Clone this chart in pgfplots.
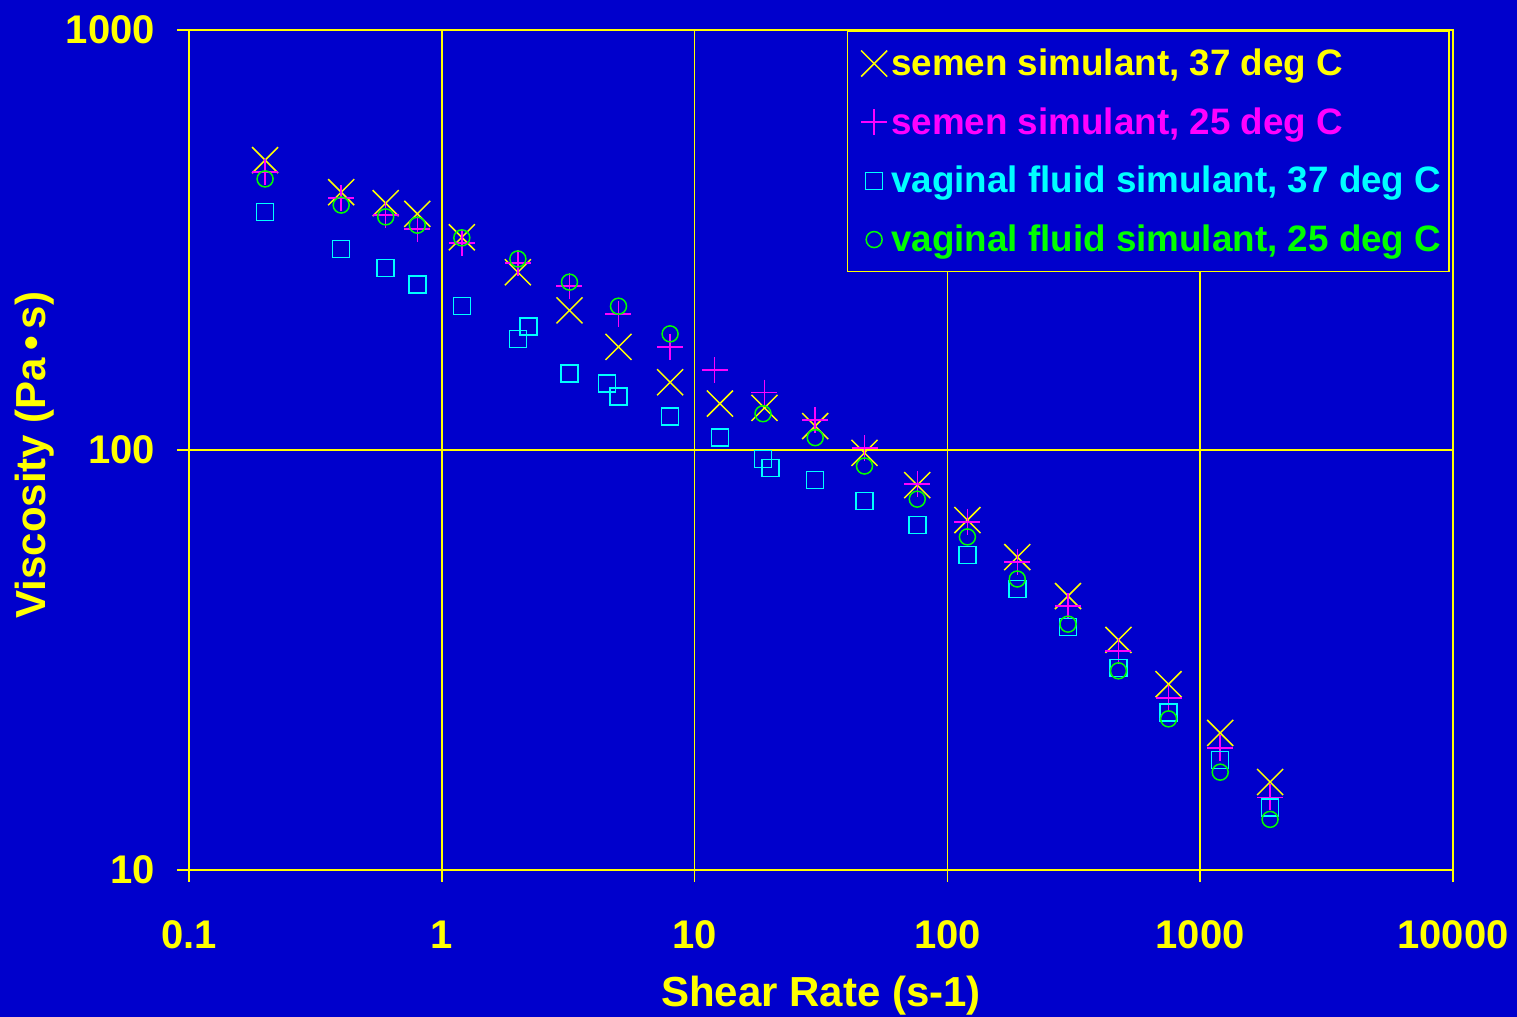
\documentclass[border=0pt]{standalone}
\usepackage{fontspec}
\setmainfont{Liberation Sans}
\usepackage{pgfplots}
\pgfplotsset{compat=1.18}
\definecolor{bgblue}{RGB}{0,0,204}
\definecolor{myyellow}{RGB}{255,255,0}
\definecolor{mymag}{RGB}{255,0,255}
\definecolor{mycyan}{RGB}{0,255,255}
\definecolor{mygreen}{RGB}{0,255,0}
\begin{document}
\begin{tikzpicture}
\fill[bgblue] (-94.5pt,-73.5pt) rectangle (664pt,435pt);
\useasboundingbox (-94.5pt,-73.5pt) rectangle (664pt,435pt);
\begin{axis}[
  at={(0pt,0pt)}, anchor=south west,
  width=632pt, height=420pt, scale only axis,
  xmode=log, ymode=log,
  xmin=0.1, xmax=10000, ymin=10, ymax=1000,
  axis line style={myyellow, line width=0.75pt},
  grid=major, major grid style={myyellow, line width=0.75pt},
  xminorticks=false, yminorticks=false,
  xtick pos=bottom, ytick pos=left,
  xtick={0.1,1,10,100,1000,10000}, xticklabels={0.1,1,10,100,1000,10000},
  ytick={10,100,1000}, yticklabels={10,100,1000},
  tick align=outside, major tick length=6pt,
  tick style={myyellow, line width=0.75pt},
  ticklabel style={font=\fontsize{20}{24}\selectfont\bfseries, text=myyellow},
  xticklabel style={yshift=-16pt},
  yticklabel style={xshift=-7.5pt},
  xlabel={Shear Rate (s-1)}, ylabel={Viscosity (Pa\,•\,s)},
  label style={font=\fontsize{21}{25}\selectfont\bfseries, text=myyellow},
  xlabel style={at={(axis description cs:0.5,0)}, anchor=center, yshift=-63pt},
  ylabel style={at={(axis description cs:-0.1218,0.494)}, anchor=center},
  legend style={at={(rel axis cs:0.9976,0.9988)}, anchor=north east,
    draw=myyellow, fill=bgblue, line width=0.75pt,
    font=\fontsize{18.4}{22}\selectfont\bfseries, row sep=10.5pt,
    inner xsep=2pt, inner ysep=6.5pt},
  legend image code/.code={\draw[#1] plot coordinates {(0pt,0pt)}; \path (-11pt,0pt) (5.5pt,0pt);},
  legend cell align=left,
]
\addplot[only marks, mark=x, mark size=9.2pt, myyellow, mark options={line width=0.75pt}] coordinates {
(0.2,490) (0.4,411) (0.6,387) (0.8,365) (1.2,321) (2,265) (3.2,215) (5,176) (8,145)
(12.6,129) (18.9,126) (30,114) (47,98.4) (76,82.5) (120,68.1) (189,55.6) (300,44.9)
(475,35.3) (750,27.7) (1200,21.2) (1890,16.2)};
\addlegendentry{\textcolor{myyellow}{semen simulant, 37 deg C}}
\addplot[only marks, mark=+, mark size=6.5pt, mymag, mark options={line width=0.75pt}] coordinates {
(0.2,459) (0.4,398) (0.6,363) (0.8,336) (1.2,311) (2,279) (3.2,246) (5,211) (8,176)
(12,155) (18.9,137) (30,118) (47,101) (76,83) (120,67.4) (189,54.1) (300,42.5)
(475,33.2) (750,25.7) (1200,19.5) (1890,14.9)};
\addlegendentry{\textcolor{mymag}{semen simulant, 25 deg C}}
\addplot[only marks, mark=square, mark size=4.25pt, mycyan, mark options={line width=0.75pt}] coordinates {
(0.2,369) (0.4,301) (0.6,271) (0.8,248) (1.2,220) (2,184) (2.2,197) (3.2,152) (4.5,144)
(5,134) (8,120) (12.6,107) (18.65,95.2) (20,90.6) (30,84.8) (47,75.6) (76,66.3)
(120,56.2) (189,46.7) (300,37.9) (475,30.3) (750,23.7) (1200,18.3) (1890,14.1)};
\addlegendentry{\textcolor{mycyan}{vaginal fluid simulant, 37 deg C}}
\addplot[only marks, mark=o, mark size=4pt, mygreen, mark options={line width=0.75pt}] coordinates {
(0.2,442) (0.4,383) (0.6,359) (0.8,343) (1.2,320) (2,285) (3.2,251) (5,220) (8,189)
(18.65,122) (30,107) (47,91.6) (76,76.4) (120,62.1) (189,49.3) (300,38.5)
(475,29.8) (750,22.9) (1200,17.1) (1890,13.2)};
\addlegendentry{\textcolor{mygreen}{vaginal fluid simulant, 25 deg C}}
\end{axis}
\end{tikzpicture}
\end{document}
